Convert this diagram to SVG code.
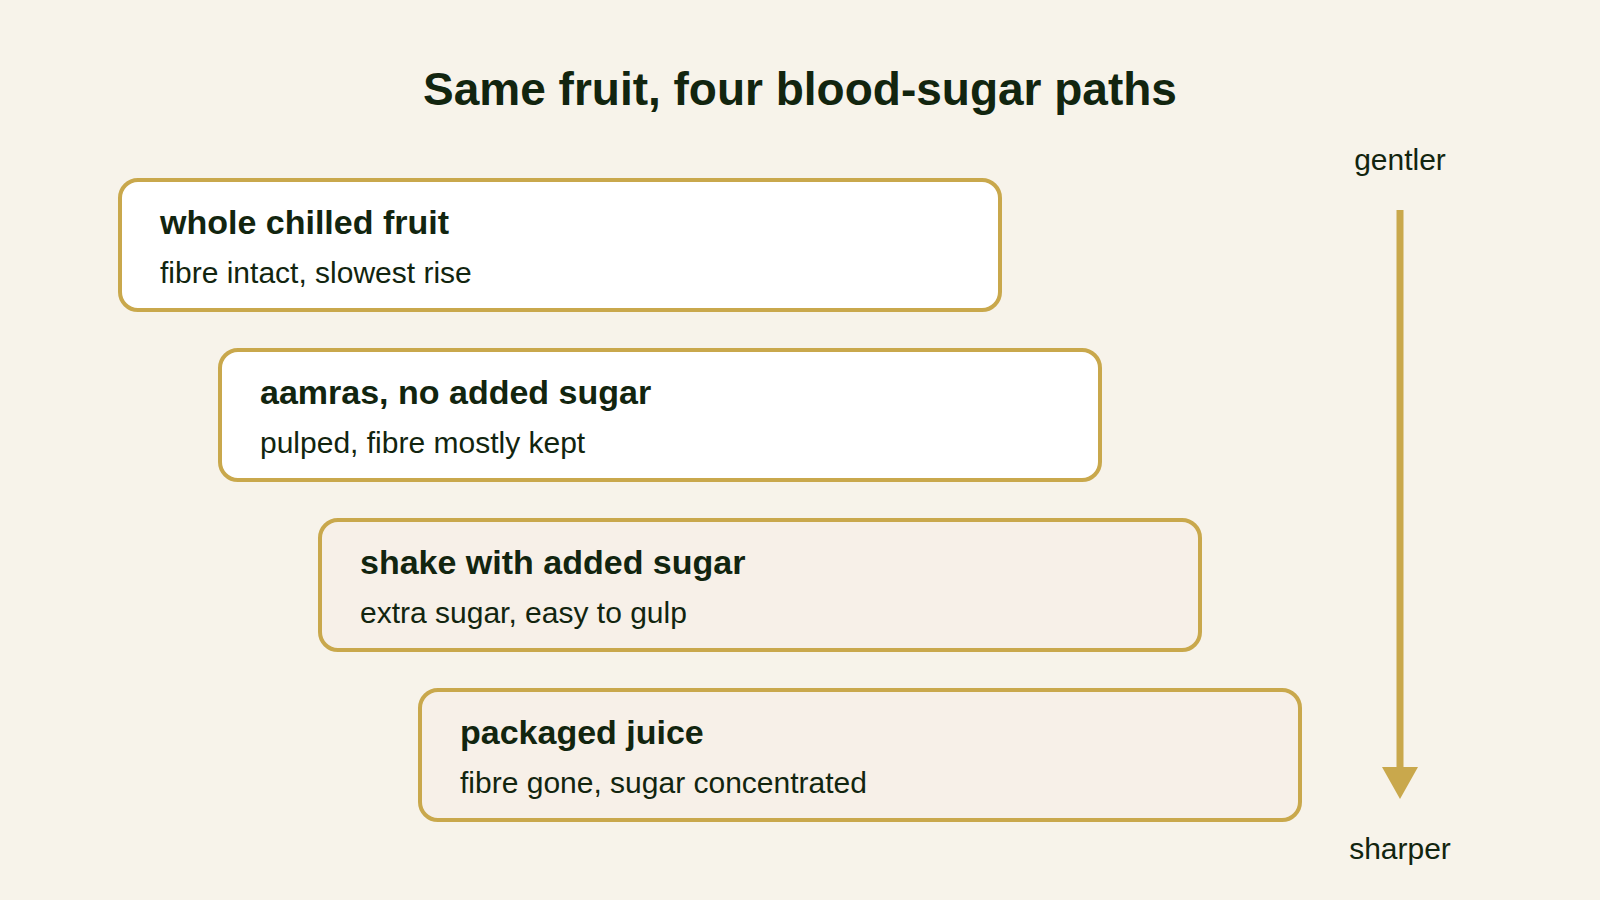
<svg xmlns="http://www.w3.org/2000/svg" width="1600" height="900" viewBox="0 0 1600 900">
  <defs>
    <style>
      .bg { fill: #f7f3ea; }
      .title { font-family: "Liberation Sans", Arial, sans-serif; font-weight: bold; font-size: 46px; fill: #12250f; }
      .box { stroke: #c9a84c; stroke-width: 4; }
      .light { fill: #ffffff; }
      .warm { fill: #f7f0e8; }
      .head { font-family: "Liberation Sans", Arial, sans-serif; font-weight: bold; font-size: 34px; fill: #12250f; }
      .sub { font-family: "Liberation Sans", Arial, sans-serif; font-size: 30px; fill: #12250f; }
      .axis { font-family: "Liberation Sans", Arial, sans-serif; font-size: 30px; fill: #12250f; text-anchor: middle; }
      .arrow { stroke: #c9a84c; stroke-width: 7; fill: none; }
    </style>
  </defs>
  <rect class="bg" x="0" y="0" width="1600" height="900"/>
  <text class="title" x="800" y="105" text-anchor="middle">Same fruit, four blood-sugar paths</text>

  <g id="node-whole">
    <rect class="box light" x="120" y="180" width="880" height="130" rx="18"/>
    <text class="head" x="160" y="234">whole chilled fruit</text>
    <text class="sub" x="160" y="283">fibre intact, slowest rise</text>
  </g>
  <g id="node-aamras">
    <rect class="box light" x="220" y="350" width="880" height="130" rx="18"/>
    <text class="head" x="260" y="404">aamras, no added sugar</text>
    <text class="sub" x="260" y="453">pulped, fibre mostly kept</text>
  </g>
  <g id="node-shake">
    <rect class="box warm" x="320" y="520" width="880" height="130" rx="18"/>
    <text class="head" x="360" y="574">shake with added sugar</text>
    <text class="sub" x="360" y="623">extra sugar, easy to gulp</text>
  </g>
  <g id="node-juice">
    <rect class="box warm" x="420" y="690" width="880" height="130" rx="18"/>
    <text class="head" x="460" y="744">packaged juice</text>
    <text class="sub" x="460" y="793">fibre gone, sugar concentrated</text>
  </g>

  <g id="connectors">
    <line class="arrow" x1="1400" y1="210" x2="1400" y2="767"/>
    <path d="M1382 767 L1418 767 L1400 799 Z" fill="#c9a84c"/>
  </g>
  <g id="axis-labels">
    <text class="axis" x="1400" y="170">gentler</text>
    <text class="axis" x="1400" y="859">sharper</text>
  </g>
</svg>
